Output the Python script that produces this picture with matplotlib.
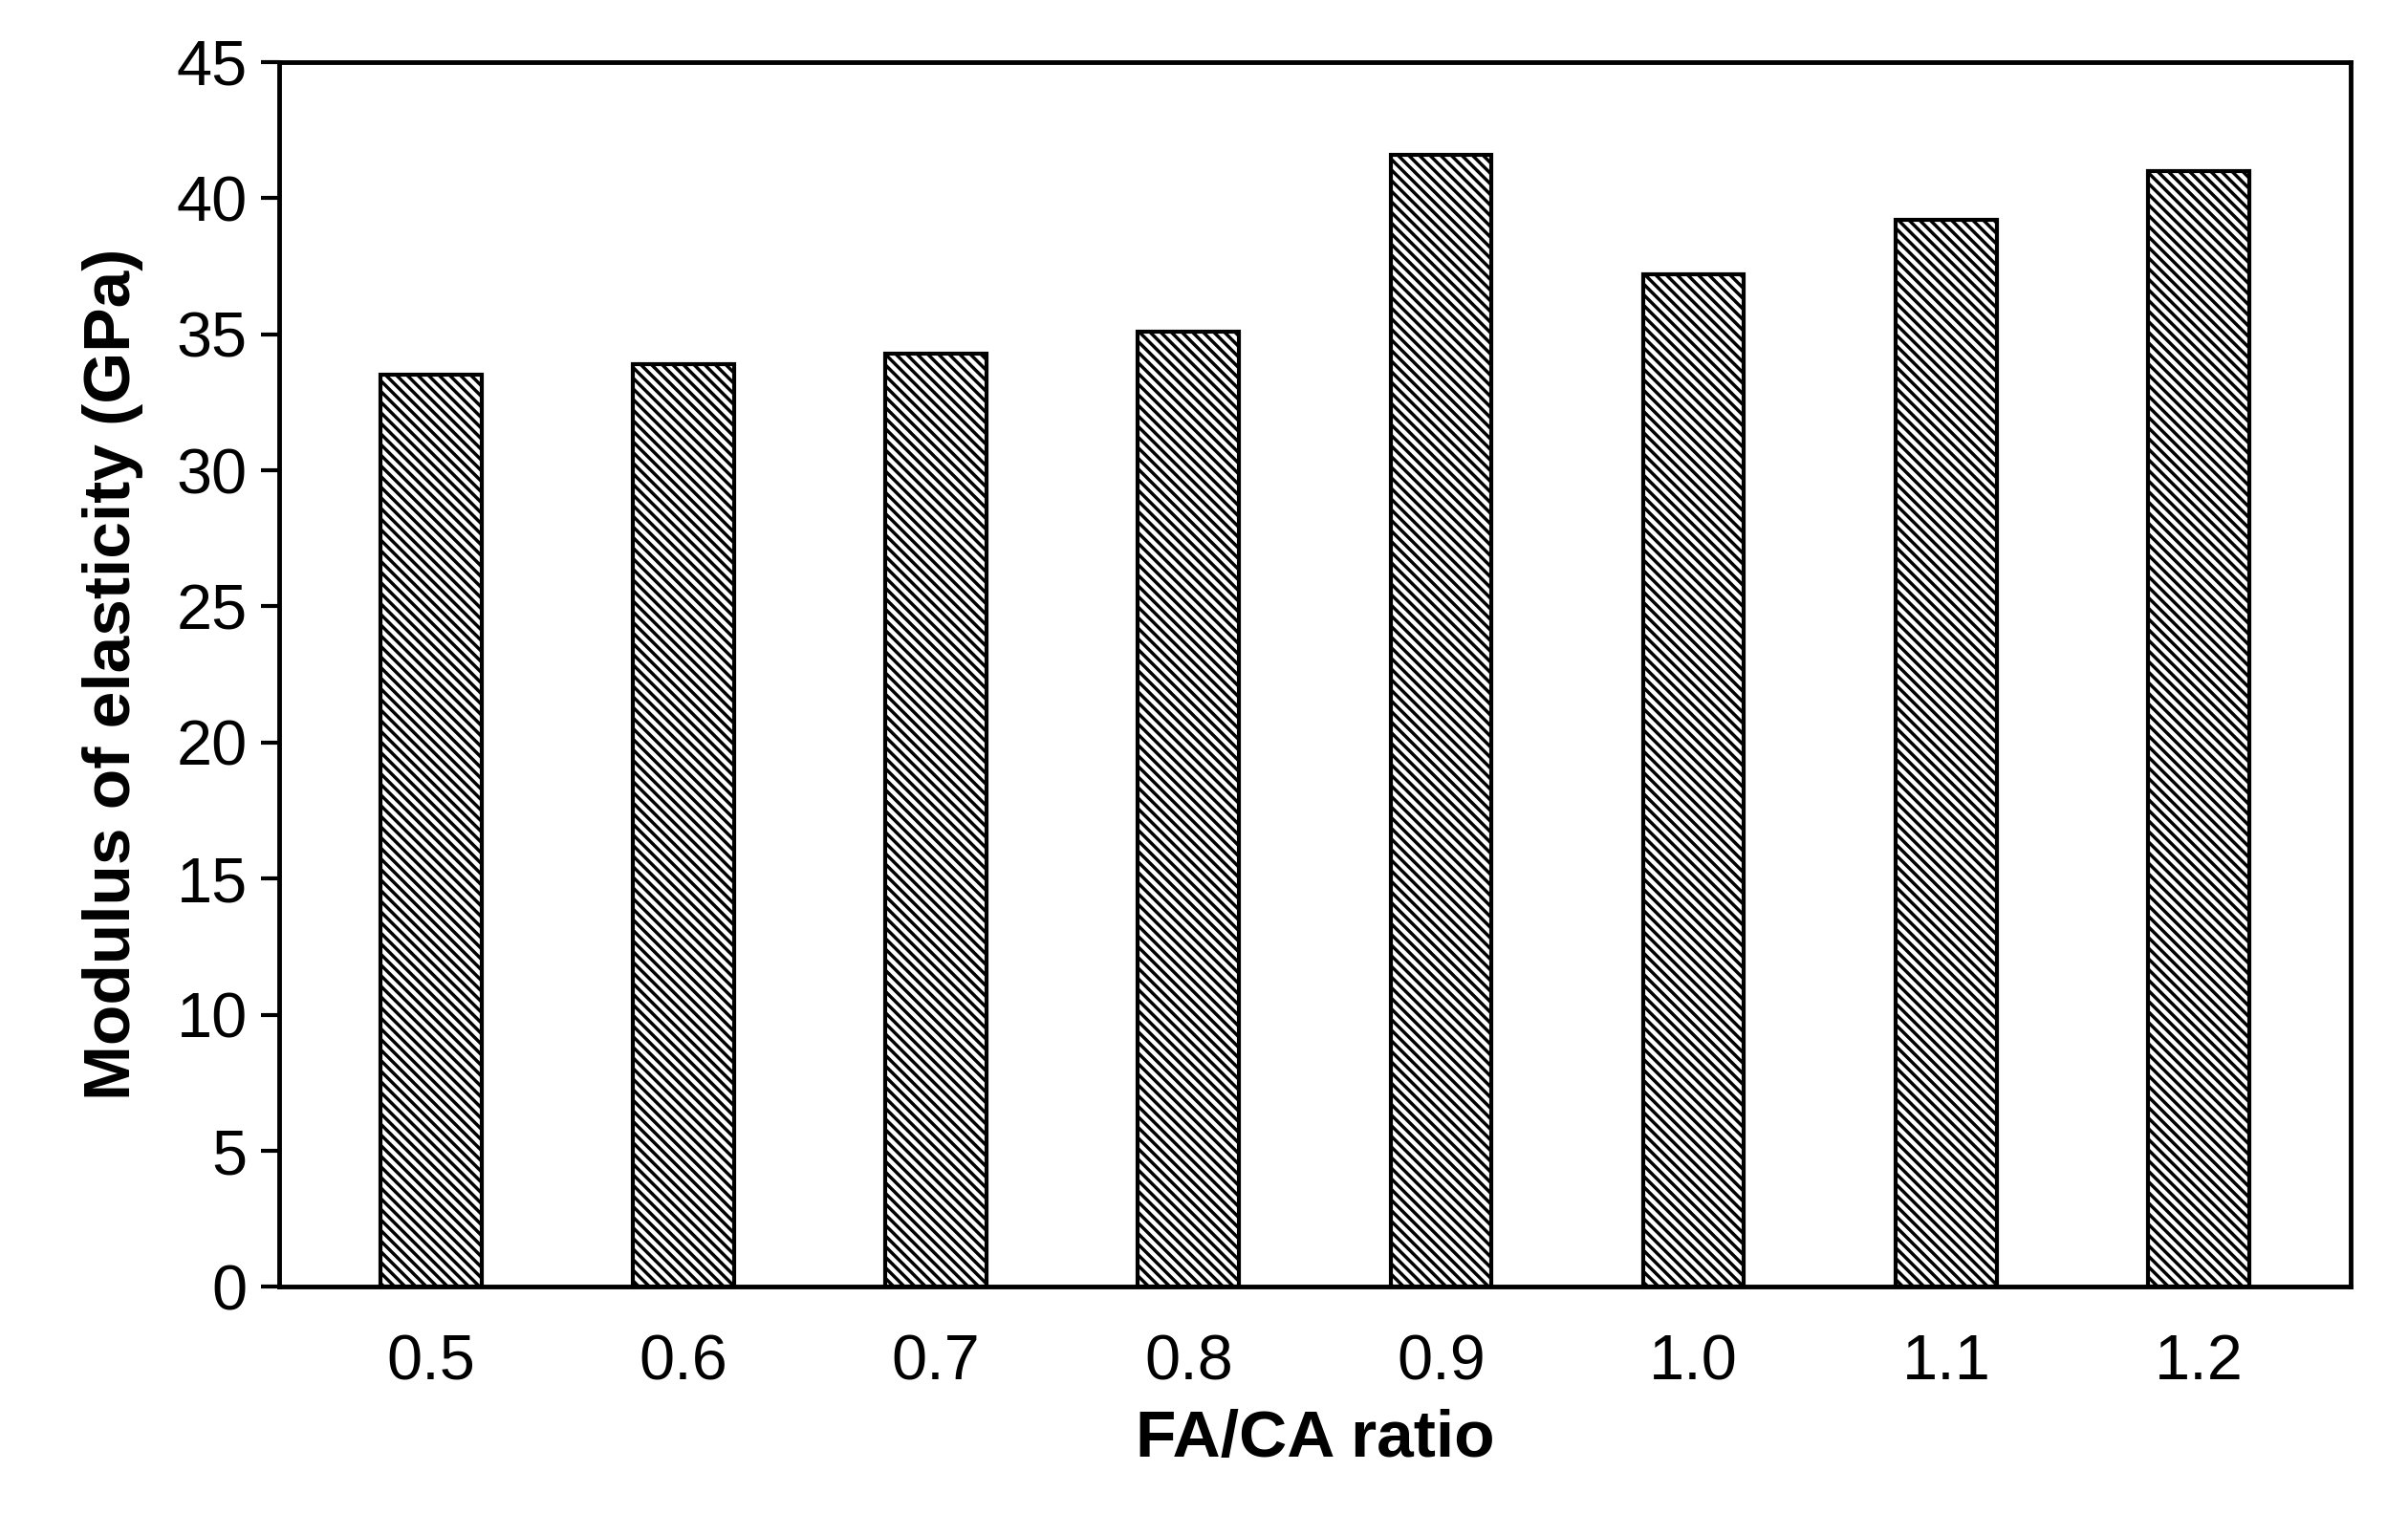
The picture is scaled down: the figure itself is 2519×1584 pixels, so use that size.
import matplotlib.pyplot as plt
import numpy as np

plt.rcParams['font.family'] = ['Liberation Sans', 'DejaVu Sans']
plt.rcParams['hatch.linewidth'] = 2.5

ratios = ["0.5", "0.6", "0.7", "0.8", "0.9", "1.0", "1.1", "1.2"]
modulus = [33.5, 33.9, 34.3, 35.1, 41.6, 37.2, 39.2, 41.0]

fig = plt.figure(figsize=(25.19, 15.84), dpi=100)
ax = fig.add_axes([0.116, 0.15, 0.86, 0.809])

x = np.arange(len(ratios))
ax.bar(x, modulus, width=0.4, color="white", edgecolor="black",
       linewidth=3, hatch="\\\\\\")

ax.set_xlim(-0.6, len(ratios) - 0.4)
ax.set_ylim(0, 45)
ax.set_yticks(range(0, 46, 5))
ax.set_xticks(x)
ax.set_xticklabels(ratios)
ax.tick_params(axis="y", direction="out", length=14, width=3, labelsize=48, pad=10)
ax.tick_params(axis="x", length=0, labelsize=48, pad=35)
for s in ax.spines.values():
    s.set_linewidth(3.5)

ax.set_xlabel("FA/CA ratio", fontsize=50, fontweight="bold", labelpad=12)
ax.set_ylabel("Modulus of elasticity (GPa)", fontsize=50, fontweight="bold", labelpad=25)

fig.savefig("out.png", dpi=100)
